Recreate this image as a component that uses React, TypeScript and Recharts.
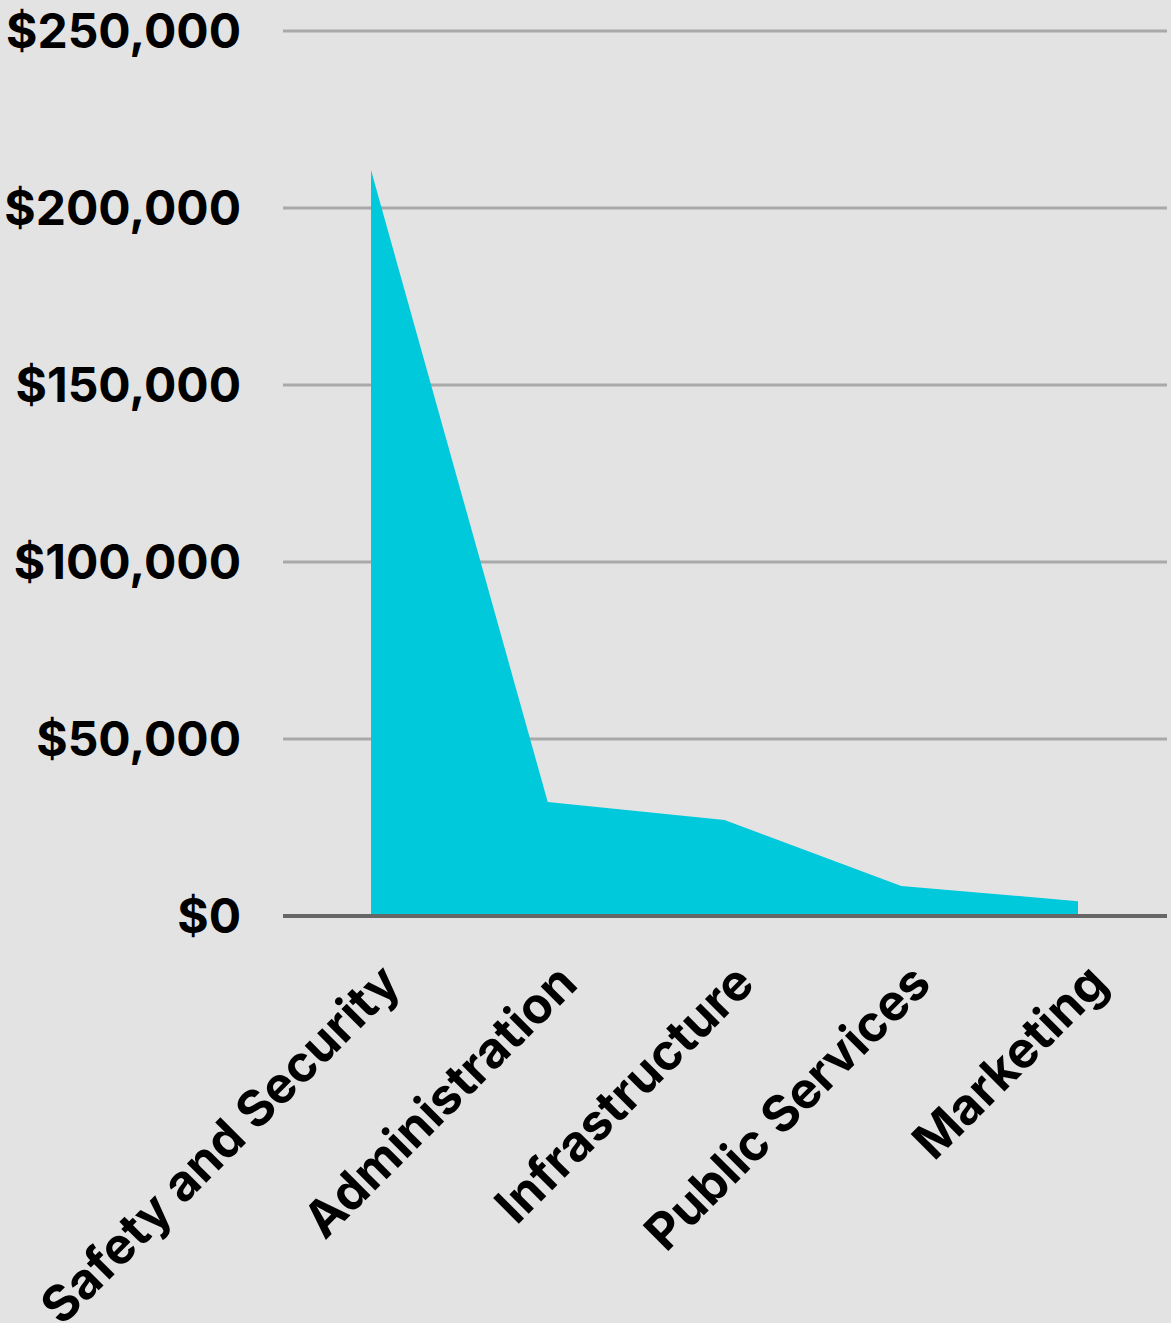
import React from 'react'
import { AreaChart, Area, XAxis, YAxis, CartesianGrid, ReferenceLine } from 'recharts'

const categories = ['Safety and Security', 'Administration', 'Infrastructure', 'Public Services', 'Marketing']
const spending = [210700, 32200, 27100, 8500, 4200]
const yTicks = [0, 50000, 100000, 150000, 200000, 250000]

const data = categories.map((name, i) => ({ name, value: spending[i] }))

function formatDollars(v: number): string {
  return '$' + v.toLocaleString('en-US')
}

function CategoryTick({ x, y, payload }: { x?: number; y?: number; payload?: { value: string } }) {
  const ex = (x ?? 0) + 32
  const ey = (y ?? 0) + 68
  return (
    <text
      x={ex}
      y={ey}
      textAnchor="end"
      transform={`rotate(-45, ${ex}, ${ey})`}
      fontFamily="Inter, sans-serif"
      fontWeight={700}
      fontSize={50}
      fill="#000"
    >
      {payload?.value}
    </text>
  )
}

export default function App() {
  return (
    <div style={{ position: 'fixed', top: 0, left: 0, width: 1171, height: 1323, background: '#e3e3e3' }}>
      <AreaChart width={1171} height={1323} data={data} margin={{ top: 31, right: 4, bottom: 0, left: 0 }}>
        <CartesianGrid vertical={false} stroke="#a9a9a9" strokeWidth={3} />
        <XAxis
          dataKey="name"
          interval={0}
          height={407}
          padding={{ left: 88, right: 89 }}
          axisLine={false}
          tickLine={false}
          tickSize={0}
          tick={<CategoryTick />}
        />
        <YAxis
          domain={[0, 250000]}
          ticks={yTicks}
          width={283}
          axisLine={false}
          tickLine={false}
          tickSize={0}
          tickMargin={42}
          tickFormatter={formatDollars}
          tick={{ fontFamily: 'Inter, sans-serif', fontWeight: 700, fontSize: 48, fill: '#000' }}
        />
        <Area
          type="linear"
          dataKey="value"
          stroke="none"
          fill="#00c9db"
          fillOpacity={1}
          isAnimationActive={false}
        />
        <ReferenceLine y={0} stroke="#666" strokeWidth={4} />
      </AreaChart>
    </div>
  )
}
